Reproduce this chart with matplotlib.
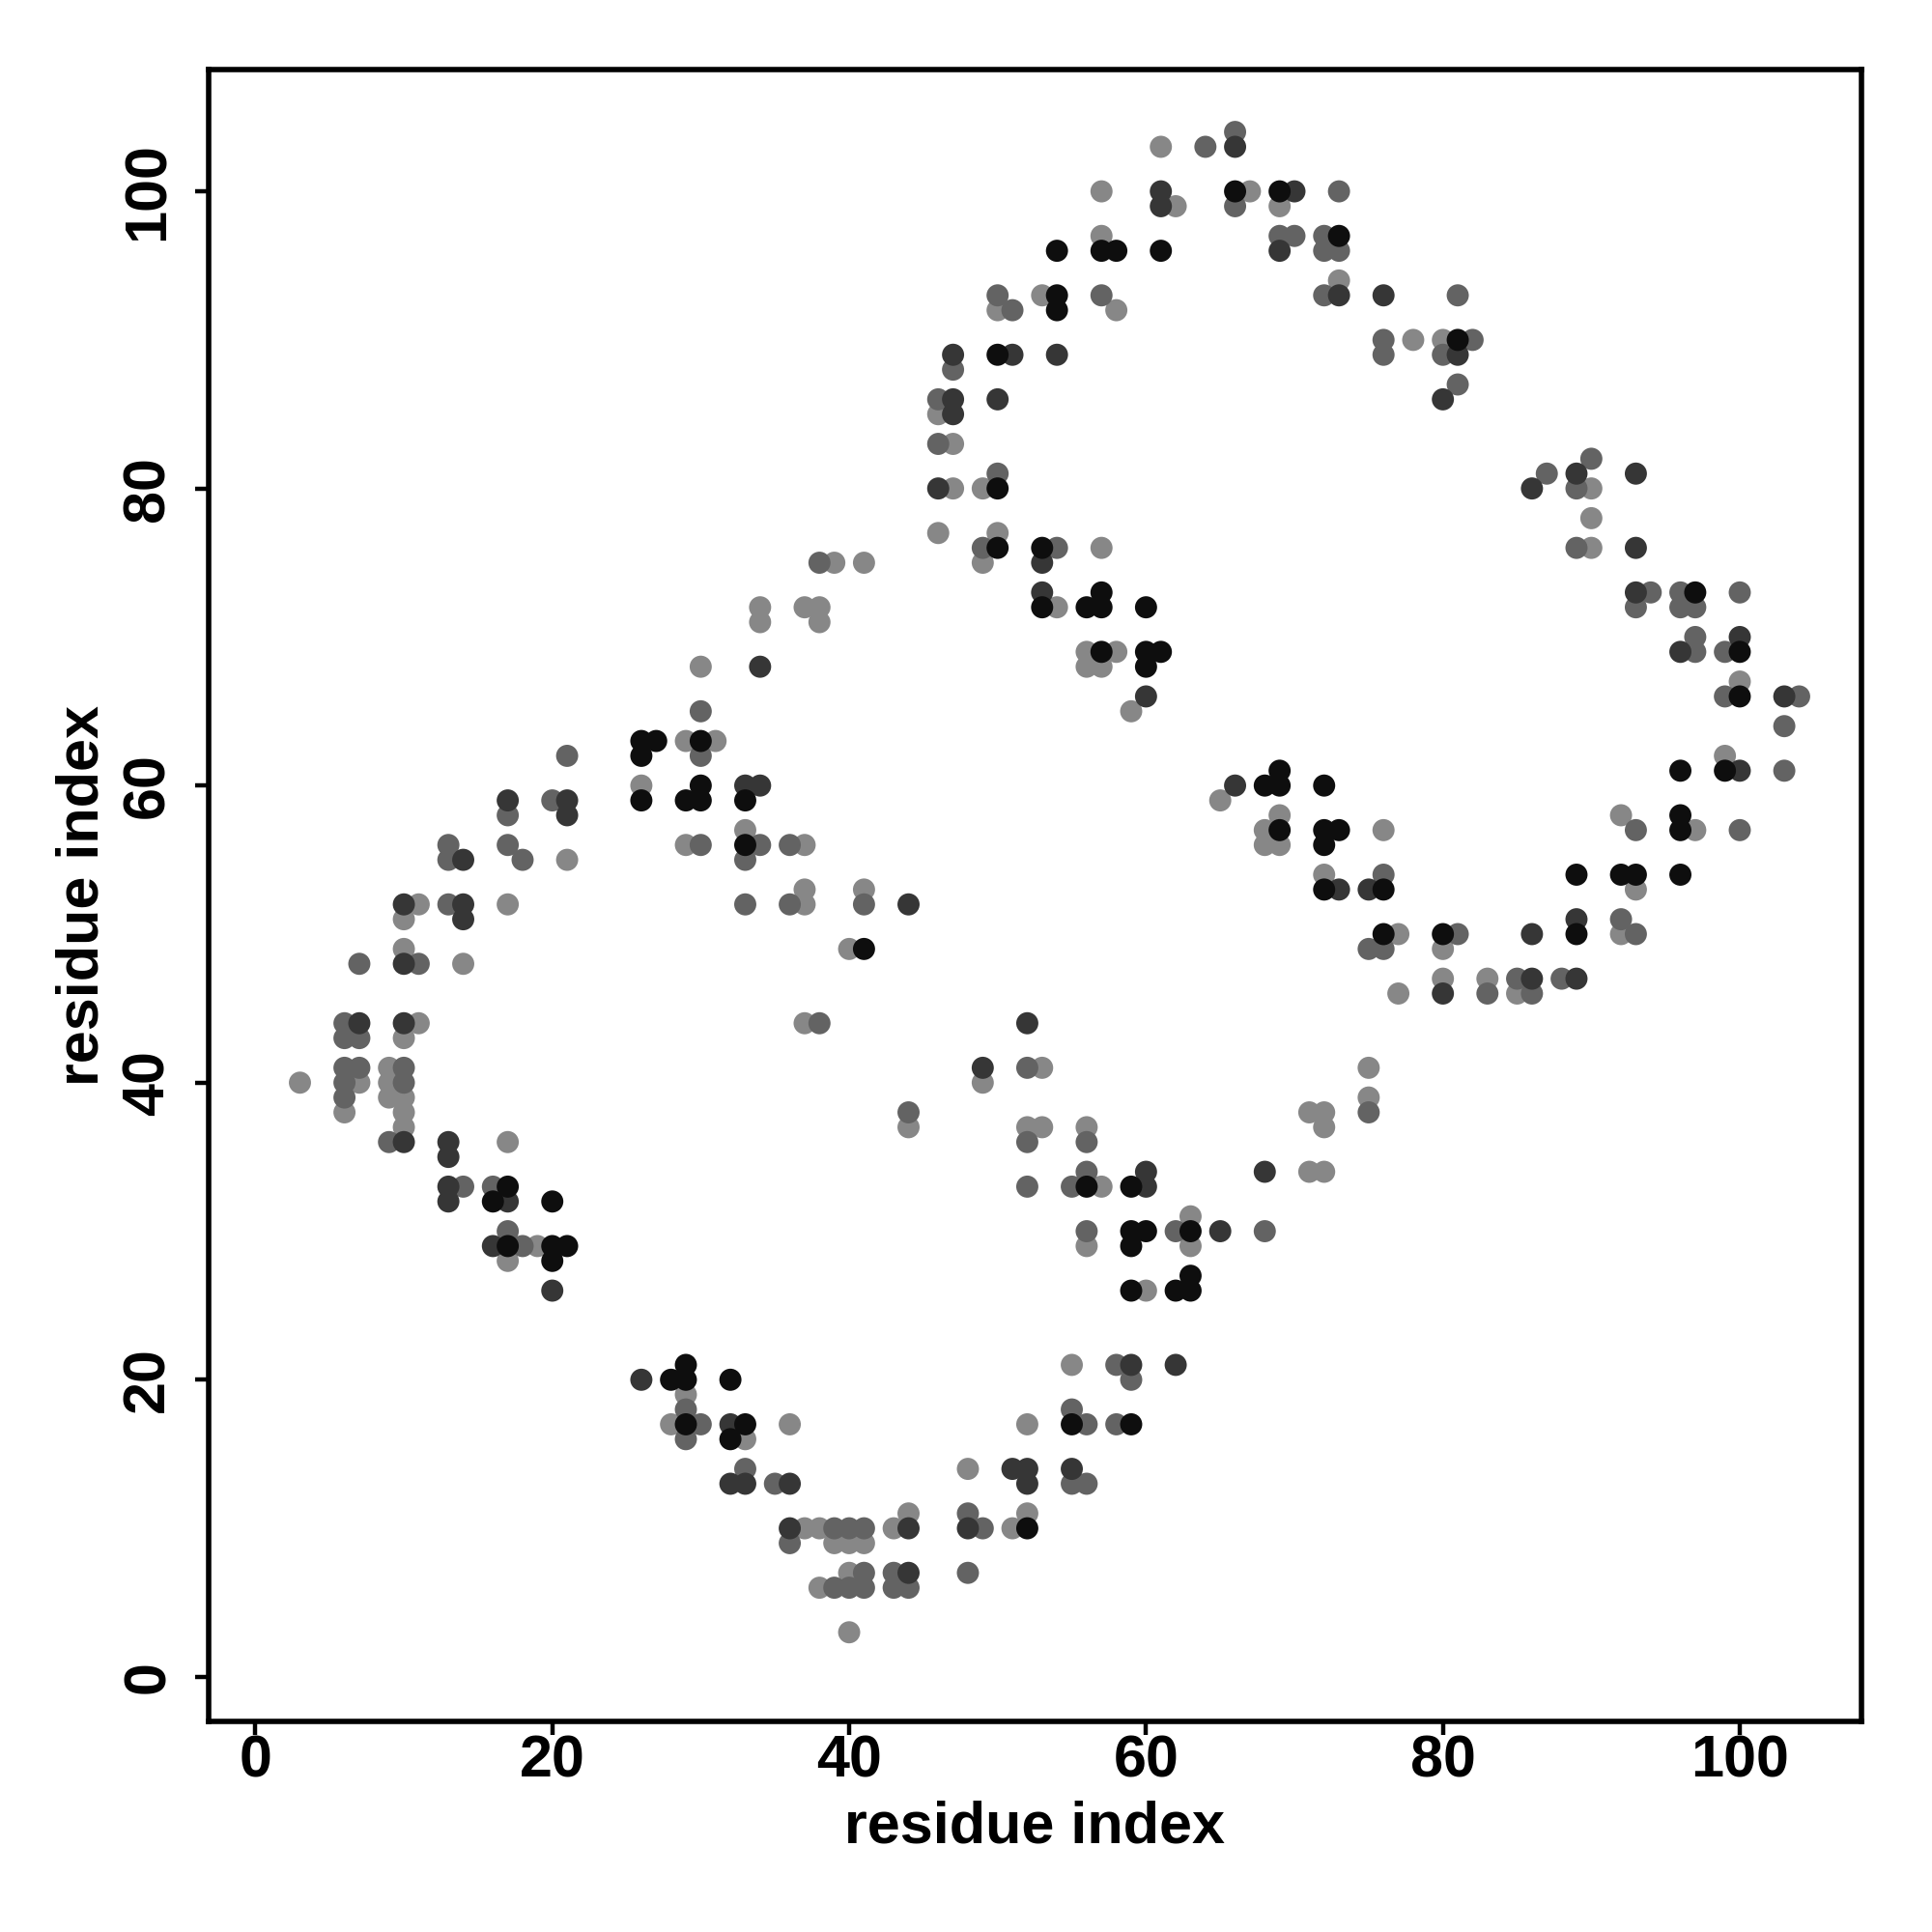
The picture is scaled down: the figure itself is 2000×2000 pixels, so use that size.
import matplotlib
matplotlib.use("Agg")
import matplotlib.pyplot as plt

# residue contact pairs (i, j), grouped by gray level of the dot
black_pts = [
    (26, 63), (26, 62), (27, 63), (26, 59), (29, 59), (30, 63), (30, 60), (30, 59), (33, 59), (33, 56),
    (29, 21), (29, 20), (28, 20), (29, 17), (32, 20), (33, 17), (32, 16),
    (16, 32), (17, 33), (17, 29), (20, 32), (20, 29), (20, 28), (21, 29),
    (41, 49), (52, 10),
    (55, 17), (59, 17), (56, 33), (59, 33), (59, 30), (60, 30), (59, 29), (63, 30),
    (59, 26), (62, 26), (63, 26), (63, 27),
    (50, 76), (53, 76), (53, 72), (56, 72), (57, 72), (57, 73), (60, 72), (57, 69), (60, 69), (61, 69), (60, 68),
    (68, 60), (69, 60), (69, 61), (72, 60), (69, 57), (72, 57), (73, 57), (72, 56), (72, 53), (76, 53), (76, 50),
    (80, 50), (89, 50), (89, 54), (92, 54), (93, 54), (96, 54), (96, 61), (99, 61), (96, 58), (96, 57),
    (97, 73), (100, 69), (100, 66),
    (54, 96), (57, 96), (58, 96), (61, 96), (66, 100), (69, 100), (73, 97), (54, 93), (54, 92),
    (50, 89), (50, 80), (81, 90),
]
dark_pts = [
    (10, 52), (14, 52), (14, 51), (14, 55), (17, 59), (21, 59), (21, 58), (13, 36), (13, 35), (13, 33),
    (13, 32), (17, 32), (16, 29), (20, 26), (7, 44), (10, 48), (10, 44), (10, 36),
    (26, 20), (32, 17), (32, 13), (33, 13), (36, 13), (36, 10), (44, 10), (44, 7),
    (33, 60), (34, 60), (34, 68), (44, 52), (49, 41),
    (48, 10), (51, 14), (52, 14), (52, 13),
    (59, 21), (62, 21), (55, 14), (52, 44), (60, 33), (60, 34), (65, 30), (68, 34),
    (53, 75), (53, 73), (60, 66), (66, 60), (73, 53), (75, 53),
    (86, 50), (80, 46), (86, 47), (89, 47), (89, 51),
    (93, 76), (93, 73), (96, 69), (100, 70), (100, 61), (103, 66),
    (61, 100), (70, 100), (61, 99), (69, 96), (73, 93), (76, 93), (47, 89), (51, 89), (54, 89),
    (47, 86), (50, 86), (47, 85), (46, 80), (66, 103), (81, 89), (80, 86), (89, 81), (93, 81), (86, 80),
]
mid_pts = [
    (7, 48), (6, 44), (6, 43), (6, 41), (6, 40), (6, 39), (7, 43), (7, 41), (9, 36), (10, 41), (10, 40),
    (11, 48), (13, 52), (13, 56), (13, 55), (14, 33), (16, 33), (17, 58), (17, 56), (17, 30), (18, 29),
    (18, 55), (20, 59), (21, 62),
    (29, 18), (29, 16), (30, 17), (33, 14), (35, 13), (36, 9), (39, 10), (40, 10), (41, 10), (41, 7),
    (43, 7), (39, 6), (40, 6), (41, 6), (43, 6), (44, 6), (48, 11), (49, 10), (48, 7),
    (30, 65), (30, 62), (30, 56), (33, 55), (33, 52), (34, 56), (36, 56), (36, 52), (38, 75), (41, 52),
    (38, 44), (44, 38),
    (58, 21), (59, 20), (55, 18), (56, 17), (58, 17), (55, 13), (56, 13), (52, 36), (52, 41), (56, 36),
    (56, 34), (55, 33), (52, 33), (56, 30), (62, 30), (68, 30), (75, 38),
    (54, 76), (49, 76), (76, 54), (76, 49), (75, 49),
    (81, 50), (83, 46), (85, 47), (86, 46), (88, 47), (92, 51), (93, 50), (93, 57),
    (89, 76), (93, 72), (94, 73), (96, 73), (96, 72), (97, 72), (100, 73), (97, 70), (97, 69), (99, 69),
    (99, 66), (104, 66), (103, 64), (103, 61), (100, 57),
    (66, 104), (64, 103), (69, 97), (70, 97), (72, 97), (72, 96), (73, 96), (50, 93), (57, 93), (72, 93),
    (51, 92), (47, 88), (46, 86), (46, 83), (50, 81), (76, 90), (76, 89), (80, 89), (81, 87), (82, 90),
    (81, 93), (90, 82), (87, 81), (89, 80), (73, 100), (66, 99),
]
light_pts = [
    (3, 40), (6, 38), (7, 40), (9, 41), (9, 40), (9, 39), (10, 51), (10, 49), (10, 43), (10, 39), (10, 38),
    (10, 37), (11, 52), (11, 44), (14, 48), (17, 52), (17, 36), (17, 28), (19, 29), (21, 55),
    (26, 60), (29, 63), (29, 56), (31, 63), (30, 68),
    (28, 17), (29, 19), (33, 16), (36, 17), (37, 10), (38, 10), (39, 9), (40, 9), (41, 9), (40, 7),
    (38, 6), (40, 3), (43, 10), (44, 11), (48, 14), (51, 10),
    (34, 72), (34, 71), (37, 72), (38, 72), (38, 71), (39, 75), (41, 75), (33, 57), (37, 56), (37, 53),
    (37, 52), (41, 53), (40, 49), (37, 44), (49, 40), (44, 37),
    (46, 77), (50, 77), (49, 75),
    (60, 26), (55, 21), (52, 17), (52, 11), (53, 41), (52, 37), (53, 37), (56, 37), (57, 33), (56, 29),
    (63, 31), (63, 29), (71, 38), (72, 38), (72, 37), (71, 34), (72, 34), (75, 41), (75, 39),
    (77, 50), (80, 49), (77, 46), (80, 47), (83, 47), (85, 46), (92, 50),
    (57, 76), (54, 72), (56, 69), (58, 69), (56, 68), (57, 68), (59, 65), (65, 59), (69, 58), (68, 57),
    (68, 56), (69, 56), (76, 57), (72, 54),
    (90, 76), (100, 67), (99, 62), (92, 58), (97, 57), (93, 53),
    (61, 103), (57, 100), (67, 100), (62, 99), (69, 99), (57, 97), (73, 94), (53, 93), (50, 92), (58, 92),
    (46, 85), (47, 83), (47, 80), (49, 80), (78, 90), (80, 90), (90, 80), (90, 78),
]

groups = [
    (light_pts, "#878787"),
    (mid_pts, "#636363"),
    (dark_pts, "#363636"),
    (black_pts, "#0e0e0e"),
]

plt.rcParams["font.family"] = ["Liberation Sans", "DejaVu Sans"]
plt.rcParams["font.weight"] = "bold"

fig = plt.figure(figsize=(10, 10), dpi=200)
ax = fig.add_axes([0.108, 0.109, 0.8555, 0.855])

for pts, col in groups:
    xs = [p[0] for p in pts]
    ys = [p[1] for p in pts]
    ax.scatter(xs, ys, s=68, c=col, edgecolors="none", zorder=3)

ax.set_xlim(-3.15, 108.2)
ax.set_ylim(-3.0, 108.2)
ax.set_xticks(range(0, 101, 20))
ax.set_yticks(range(0, 101, 20))

for sp in ax.spines.values():
    sp.set_linewidth(2.0)

ax.tick_params(axis="both", length=5, width=1.6, labelsize=22)
ax.tick_params(axis="x", pad=0)
ax.tick_params(axis="y", labelrotation=90, pad=7)
for lab in ax.get_yticklabels():
    lab.set_va("center")
for lab in ax.get_xticklabels() + ax.get_yticklabels():
    lab.set_fontweight("bold")

ax.set_xlabel("residue index", fontsize=22, fontweight="bold", labelpad=4)
ax.set_ylabel("residue index", fontsize=22, fontweight="bold", labelpad=4)

fig.savefig("out.png", dpi=200)
